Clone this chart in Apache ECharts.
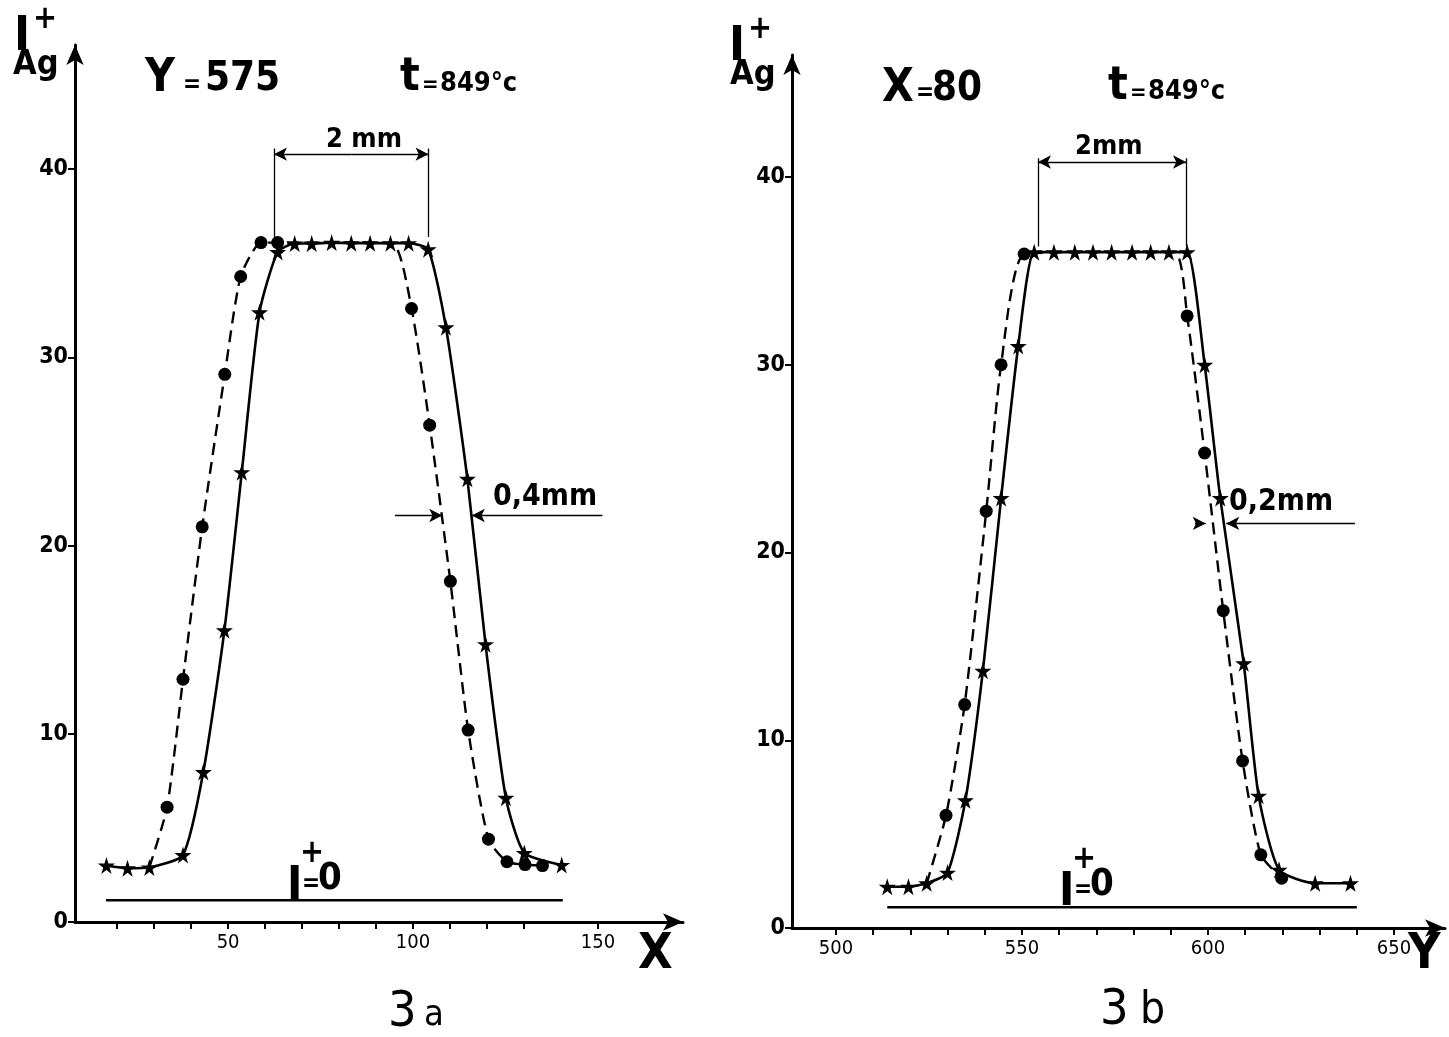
<!DOCTYPE html>
<html>
<head>
<meta charset="utf-8">
<script src="https://cdn.jsdelivr.net/npm/echarts@6/dist/echarts.min.js"></script>
<style>
html, body { margin: 0; padding: 0; background: #fff; }
#main { width: 1449px; height: 1037px; }
</style>
</head>
<body>
<div id="main"></div>
<script>
// fig 3a : scan along X at Y = 575
var leftStars = [[17.1,3.0],[22.8,2.86],[28.7,2.9],[37.8,3.56],[43.3,7.97],[49,15.5],[53.7,23.9],[58.5,32.4],
    [63.4,35.6],[68,36.05],[72.6,36.05],[78,36.1],[83.3,36.07],[88.4,36.07],[93.9,36.07],[98.8,36.07],[104.1,35.75],
    [108.9,31.6],[114.7,23.55],[119.6,14.76],[125.1,6.6],[130.1,3.67],[140.2,3.03]];
var leftDots = [[33.5,6.1],[37.8,12.9],[43,21],[49.1,29.1],[53.4,34.3],[58.9,36.1],[63.4,36.1],
    [99.6,32.6],[104.5,26.4],[110.1,18.1],[114.9,10.2],[120.4,4.4],[125.4,3.2],[130.3,3.05],[135,3.0]];
var leftDotsJoin = [[28.7,2.9],[80,36.1],[94.5,36.05]];
var leftZero = [[17,1.15],[140.5,1.15]];

// fig 3b : scan along Y at X = 80
var rightStars = [[513.8,2.2],[519.5,2.2],[524.4,2.38],[530,2.95],[534.8,6.8],[539.5,13.7],[544.4,22.9],[549,31.0],
    [553.3,36],[558.6,36],[564.2,36],[569.1,36],[574.1,36],[579.6,36],[584.6,36],[589.5,36],[594.4,36],
    [599.1,30],[603.3,22.9],[609.6,14.1],[613.6,7.05],[619.1,3.1],[628.8,2.38],[638.3,2.38]];
var rightDots = [[529.6,6.0],[534.6,11.9],[540.4,22.2],[544.4,30.0],[550.6,35.9],
    [594.4,32.6],[599.1,25.3],[604.1,16.9],[609.3,8.9],[614.2,3.9],[619.8,2.65]];
var rightDotsJoin = [[524.4,2.38],[570,36],[591,36]];
var rightZero = [[513.8,1.1],[640,1.1]];

// axis ticks / labels
var yTicks = [0, 10, 20, 30, 40];
var leftXTicks = [20, 30, 40, 50, 60, 70, 80, 90, 100, 110, 120, 130, 150];
var leftXLabels = [50, 100, 150];
var rightXTicks = [500, 510, 520, 530, 540, 550, 560, 570, 580, 590, 600, 610, 620, 630, 640, 650];
var rightXLabels = [500, 550, 600, 650];

// dimension marks : [x1, x2, yBottom, yTop, yArrow]
var leftDim2mm = [62.4, 104.2, 36.4, 41.1, 40.8];
var rightDim2mm = [554.3, 594.1, 36.3, 41.0, 40.8];
// [xStartLeft, xTipLeft, xTipRight, xEndRight, y]
var leftDimGap = [95.1, 107.9, 115.9, 151.2, 21.6];
var rightDimGap = [596.5, 599.4, 604.9, 639.5, 21.55];

var starPath = 'path://M50,0 L61,35 L98,35 L68,57 L79,91 L50,70 L21,91 L32,57 L2,35 L39,35 Z';
var FONT = '"Liberation Sans Narrow", "DejaVu Sans Condensed", "Liberation Sans", sans-serif';

function byX(a, b) { return a[0] - b[0]; }

function dimLines(d, g) {
    return [
        [{coord: [d[0], d[2]], symbol: 'none'}, {coord: [d[0], d[3]], symbol: 'none'}],
        [{coord: [d[1], d[2]], symbol: 'none'}, {coord: [d[1], d[3]], symbol: 'none'}],
        [{coord: [(d[0] + d[1]) / 2, d[4]], symbol: 'none'}, {coord: [d[0], d[4]], symbol: 'arrow'}],
        [{coord: [(d[0] + d[1]) / 2, d[4]], symbol: 'none'}, {coord: [d[1], d[4]], symbol: 'arrow'}],
        [{coord: [g[0], g[4]], symbol: 'none'}, {coord: [g[1], g[4]], symbol: 'arrow'}],
        [{coord: [g[3], g[4]], symbol: 'none'}, {coord: [g[2], g[4]], symbol: 'arrow'}]
    ];
}

function xAxisOf(idx, min, max, ticks, labels) {
    return {
        type: 'value', gridIndex: idx, min: min, max: max,
        splitLine: {show: false},
        axisLine: {lineStyle: {color: '#000', width: 3}, symbol: ['none', 'arrow'], symbolSize: [13, 20]},
        axisTick: {show: true, length: 7, lineStyle: {color: '#000', width: 2}, customValues: ticks},
        axisLabel: {show: true, customValues: labels, color: '#000', fontSize: 20, fontFamily: FONT, margin: 11}
    };
}

function yAxisOf(idx, max) {
    return {
        type: 'value', gridIndex: idx, min: 0, max: max,
        splitLine: {show: false},
        axisLine: {lineStyle: {color: '#000', width: 3}, symbol: ['none', 'arrow'], symbolSize: [13, 20]},
        axisTick: {show: true, length: 7, lineStyle: {color: '#000', width: 2}, customValues: yTicks},
        axisLabel: {show: true, customValues: yTicks, color: '#000', fontSize: 23, fontWeight: 'bold', fontFamily: FONT, margin: 7}
    };
}

function panelSeries(idx, stars, dots, join, zero, dim, gap) {
    return [
        {
            type: 'line', xAxisIndex: idx, yAxisIndex: idx, data: zero, symbol: 'none',
            lineStyle: {color: '#000', width: 2.5}, silent: true
        },
        {
            type: 'line', xAxisIndex: idx, yAxisIndex: idx, data: dots.concat(join).sort(byX),
            showSymbol: false, smooth: 0.2,
            lineStyle: {color: '#000', width: 2.4, type: [12, 7]}, silent: true
        },
        {
            type: 'scatter', xAxisIndex: idx, yAxisIndex: idx, data: dots, symbol: 'circle', symbolSize: 13,
            itemStyle: {color: '#000', opacity: 1}, silent: true
        },
        {
            type: 'line', xAxisIndex: idx, yAxisIndex: idx, data: stars, smooth: 0.2,
            symbol: starPath, symbolSize: 17, showAllSymbol: true,
            itemStyle: {color: '#000', opacity: 1}, lineStyle: {color: '#000', width: 2.6}, silent: true, z: 4,
            markLine: {
                silent: true, symbolSize: [10, 13], animation: false,
                label: {show: false},
                lineStyle: {color: '#000', width: 1.3, type: 'solid'},
                data: dimLines(dim, gap)
            }
        }
    ];
}

function txt(x, y, s, size, weight) {
    return {type: 'text', left: x, top: y, style: {text: s, fill: '#000', font: (weight || 'bold') + ' ' + size + 'px ' + FONT}};
}

var myChart = echarts.init(document.getElementById('main'));

var option = {
    backgroundColor: '#fff',
    animation: false,
    grid: [
        {left: 75, top: 45, width: 608, height: 877, outerBoundsMode: 'none'},
        {left: 792, top: 55, width: 653, height: 873, outerBoundsMode: 'none'}
    ],
    xAxis: [
        xAxisOf(0, 8.6, 173, leftXTicks, leftXLabels),
        xAxisOf(1, 488.2, 663.7, rightXTicks, rightXLabels)
    ],
    yAxis: [yAxisOf(0, 46.6), yAxisOf(1, 46.5)],
    series: panelSeries(0, leftStars, leftDots, leftDotsJoin, leftZero, leftDim2mm, leftDimGap)
        .concat(panelSeries(1, rightStars, rightDots, rightDotsJoin, rightZero, rightDim2mm, rightDimGap)),
    graphic: [
        // axis names
        txt(14, 14, 'I', 48), txt(33, 4, '+', 32), txt(13, 48, 'Ag', 34),
        txt(729, 24, 'I', 48), txt(748, 14, '+', 32), txt(730, 58, 'Ag', 34),
        txt(638, 930, 'X', 50), txt(1408, 930, 'Y', 50),
        // headers
        txt(145, 56, 'Y', 46), txt(183, 74, '=', 24), txt(205, 60, '575', 40),
        txt(400, 55, 't', 46), txt(422, 74, '=', 22), txt(440, 70, '849°c', 27),
        txt(882, 66, 'X', 46), txt(916, 82, '=', 24), txt(932, 70, '80', 40),
        txt(1108, 64, 't', 46), txt(1130, 82, '=', 22), txt(1148, 78, '849°c', 27),
        // dimension texts
        txt(326, 126, '2 mm', 27), txt(1075, 133, '2mm', 27),
        txt(493, 482, '0,4mm', 30), txt(1229, 487, '0,2mm', 30),
        // I0 labels
        txt(287, 864, 'I', 46), txt(300, 838, '+', 32), txt(302, 873, '=', 24), txt(318, 860, '0', 38),
        txt(1059, 870, 'I', 46), txt(1072, 844, '+', 32), txt(1074, 879, '=', 24), txt(1090, 866, '0', 38),
        // figure numbers
        txt(388, 988, '3', 50, 'normal'), txt(424, 998, 'a', 36, 'normal'),
        txt(1100, 986, '3', 50, 'normal'), txt(1140, 990, 'b', 44, 'normal')
    ]
};
myChart.setOption(option);
</script>
</body>
</html>
